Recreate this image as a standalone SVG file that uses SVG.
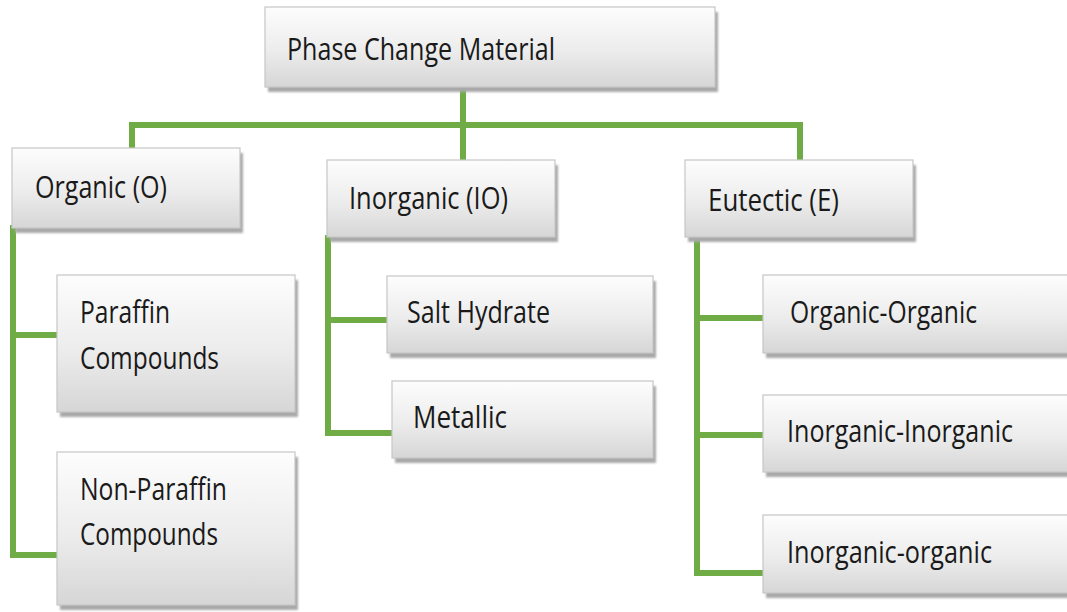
<svg xmlns="http://www.w3.org/2000/svg" width="1067" height="612" viewBox="0 0 1067 612">
<defs>
<linearGradient id="g" x1="0" y1="0" x2="0" y2="1">
<stop offset="0" stop-color="#fdfdfd"/>
<stop offset="0.55" stop-color="#ececec"/>
<stop offset="1" stop-color="#d6d6d6"/>
</linearGradient>
<filter id="sh" x="-5%" y="-5%" width="115%" height="120%">
<feGaussianBlur stdDeviation="1"/>
</filter>
</defs>
<style>
.box{fill:url(#g);stroke:#c6c6c6;stroke-width:1.2}
.shadow{fill:#a9a9a9;filter:url(#sh)}
.lbl{font-family:"Open Sans","Liberation Sans",sans-serif;font-size:31px;fill:#1a1a1a}
.con{fill:none;stroke:#6fac46;stroke-width:6;stroke-linejoin:miter;stroke-linecap:square}
</style>
<rect width="1067" height="612" fill="#ffffff"/>
<g id="connectors">
<path class="con" d="M463,88 V157"/>
<path class="con" d="M132,146 V125 H800 V158"/>
<path class="con" d="M13,228 V555 H57 M13,335 H57"/>
<path class="con" d="M328,238 V433 H392 M328,320 H387"/>
<path class="con" d="M697,238 V573 H763 M697,318 H763 M697,435 H763"/>
</g>
<g id="n-pcm">
<rect class="shadow" x="268" y="12" width="450" height="80"/>
<rect class="box" x="265" y="7" width="450" height="80"/>
<text class="lbl" x="287" y="60" textLength="268" lengthAdjust="spacingAndGlyphs">Phase Change Material</text>
</g>
<g id="n-organic">
<rect class="shadow" x="15" y="153" width="228" height="80"/>
<rect class="box" x="12" y="148" width="228" height="80"/>
<text class="lbl" x="35" y="198" textLength="132" lengthAdjust="spacingAndGlyphs">Organic (O)</text>
</g>
<g id="n-inorganic">
<rect class="shadow" x="330" y="165" width="228" height="77"/>
<rect class="box" x="327" y="160" width="228" height="77"/>
<text class="lbl" x="349" y="209" textLength="159" lengthAdjust="spacingAndGlyphs">Inorganic (IO)</text>
</g>
<g id="n-eutectic">
<rect class="shadow" x="688" y="165" width="228" height="77"/>
<rect class="box" x="685" y="160" width="228" height="77"/>
<text class="lbl" x="708" y="211" textLength="131" lengthAdjust="spacingAndGlyphs">Eutectic (E)</text>
</g>
<g id="n-paraffin">
<rect class="shadow" x="60" y="280" width="238" height="137"/>
<rect class="box" x="57" y="275" width="238" height="137"/>
<text class="lbl" x="80" y="323" textLength="90" lengthAdjust="spacingAndGlyphs">Paraffin</text>
<text class="lbl" x="80" y="369" textLength="139" lengthAdjust="spacingAndGlyphs">Compounds</text>
</g>
<g id="n-nonparaffin">
<rect class="shadow" x="60" y="457" width="238" height="153"/>
<rect class="box" x="57" y="452" width="238" height="153"/>
<text class="lbl" x="80" y="500" textLength="147" lengthAdjust="spacingAndGlyphs">Non-Paraffin</text>
<text class="lbl" x="80" y="545" textLength="138" lengthAdjust="spacingAndGlyphs">Compounds</text>
</g>
<g id="n-salt">
<rect class="shadow" x="390" y="281" width="266" height="77"/>
<rect class="box" x="387" y="276" width="266" height="77"/>
<text class="lbl" x="407" y="323" textLength="143" lengthAdjust="spacingAndGlyphs">Salt Hydrate</text>
</g>
<g id="n-metallic">
<rect class="shadow" x="395" y="386" width="261" height="77"/>
<rect class="box" x="392" y="381" width="261" height="77"/>
<text class="lbl" x="413" y="428" textLength="94" lengthAdjust="spacingAndGlyphs">Metallic</text>
</g>
<g id="n-oo">
<rect class="shadow" x="766" y="280" width="320" height="78"/>
<rect class="box" x="763" y="275" width="320" height="78"/>
<text class="lbl" x="790" y="323" textLength="187" lengthAdjust="spacingAndGlyphs">Organic-Organic</text>
</g>
<g id="n-ii">
<rect class="shadow" x="766" y="400" width="320" height="77"/>
<rect class="box" x="763" y="395" width="320" height="77"/>
<text class="lbl" x="787" y="442" textLength="226" lengthAdjust="spacingAndGlyphs">Inorganic-Inorganic</text>
</g>
<g id="n-io">
<rect class="shadow" x="766" y="520" width="320" height="78"/>
<rect class="box" x="763" y="515" width="320" height="78"/>
<text class="lbl" x="787" y="563" textLength="205" lengthAdjust="spacingAndGlyphs">Inorganic-organic</text>
</g>
</svg>
